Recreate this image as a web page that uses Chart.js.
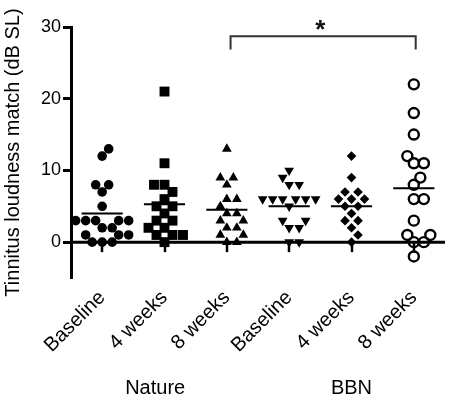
<!DOCTYPE html>
<html>
<head>
<meta charset="utf-8">
<script src="https://cdn.jsdelivr.net/npm/chart.js@4/dist/chart.umd.min.js"></script>
<style>
  html, body { margin: 0; padding: 0; background: #fff; }
  #wrap { width: 459px; height: 399px; position: relative; }
</style>
</head>
<body>
<div id="wrap"><canvas id="c" width="459" height="399"></canvas></div>
<script>
// ---- data ----
const categories = ['Baseline', '4 weeks', '8 weeks', 'Baseline', '4 weeks', '8 weeks'];
const groupLabels = ['Nature', 'BBN'];
const yTicks = [0, 10, 20, 30];

const natureBaseline = [13, 12, 8, 8, 7, 5, 3, 3, 3, 3, 3, 2, 2, 1, 1, 1, 0, 0, 0];
const nature4w      = [21, 11, 8, 8, 7, 6, 5, 5, 4, 3, 3, 2, 2, 1, 1, 1, 0];
const nature8w      = [13, 9, 9, 8, 6, 6, 5, 4, 4, 3, 3, 2, 2, 1, 1, 0, 0];
const bbnBaseline   = [10, 9, 8, 8, 6, 6, 6, 6, 6, 6, 5, 3, 3, 2, 2, 0, 0];
const bbn4w         = [12, 9, 7, 7, 6, 6, 6, 5, 5, 4, 3, 3, 2, 1, 0];
const bbn8w         = [22, 18, 15, 12, 11, 11, 9, 8, 6, 6, 3, 1, 1, 0, 0, -2];
const means         = [4.0, 5.3, 4.5, 5.0, 5.0, 7.5];
const significance  = '*';

const series = [natureBaseline, nature4w, nature8w, bbnBaseline, bbn4w, bbn8w];
const styles = [
  { pointStyle: 'circle',   radius: 4.8, rotation: 0,   fill: '#000', bw: 0 },
  { pointStyle: 'rect',     radius: 7.0, rotation: 0,   fill: '#000', bw: 0 },
  { pointStyle: 'triangle', radius: 5.6, rotation: 0,   fill: '#000', bw: 0 },
  { pointStyle: 'triangle', radius: 5.6, rotation: 180, fill: '#000', bw: 0 },
  { pointStyle: 'rectRot',  radius: 4.8, rotation: 0,   fill: '#000', bw: 0 },
  { pointStyle: 'circle',   radius: 5.0, rotation: 0,   fill: 'rgba(0,0,0,0)', bw: 2.4 }
];

const datasets = series.map((vals, g) => ({
  type: 'scatter',
  data: vals.map(v => ({ x: g + 1, y: v })),
  pointStyle: styles[g].pointStyle,
  pointRadius: styles[g].radius,
  rotation: styles[g].rotation,
  backgroundColor: styles[g].fill,
  borderColor: '#000',
  borderWidth: styles[g].bw,
  order: 1
}));

// mean lines (one segment per group)
const meanData = [];
means.forEach((m, g) => {
  meanData.push({ x: g + 1 - 0.33, y: m }, { x: g + 1 + 0.33, y: m }, { x: g + 1.5, y: null });
});
datasets.push({
  type: 'line',
  data: meanData,
  borderColor: '#000',
  borderWidth: 2,
  pointRadius: 0,
  spanGaps: false,
  fill: false,
  order: 0
});

const FONT = "'Liberation Sans', Arial, sans-serif";

const decorations = {
  id: 'decorations',
  beforeDatasetsDraw(chart) {
    const { ctx, chartArea, scales: { x, y } } = chart;
    const y0 = y.getPixelForValue(0);
    ctx.save();
    ctx.strokeStyle = '#000';
    ctx.lineWidth = 3;
    ctx.beginPath();
    ctx.moveTo(chartArea.left, y0);
    ctx.lineTo(chartArea.right, y0);
    ctx.stroke();
    ctx.lineWidth = 2.5;
    for (let i = 1; i <= categories.length; i++) {
      const px = Math.round(x.getPixelForValue(i));
      ctx.beginPath();
      ctx.moveTo(px, y0);
      ctx.lineTo(px, y0 + 10);
      ctx.stroke();
    }
    ctx.restore();
  },
  afterDraw(chart) {
    const { ctx, scales: { x, y } } = chart;
    ctx.save();
    // significance bracket between Nature 8 weeks and BBN 8 weeks
    const xl = x.getPixelForValue(3.06), xr = x.getPixelForValue(6.03);
    const yt = y.getPixelForValue(28.7), yb = y.getPixelForValue(26.85);
    ctx.strokeStyle = '#333';
    ctx.lineWidth = 2;
    ctx.beginPath();
    ctx.moveTo(xl, yb); ctx.lineTo(xl, yt); ctx.lineTo(xr, yt); ctx.lineTo(xr, yb);
    ctx.stroke();
    ctx.fillStyle = '#111';
    ctx.font = 'bold 26px ' + FONT;
    ctx.textAlign = 'center';
    ctx.textBaseline = 'middle';
    ctx.fillText(significance, x.getPixelForValue(4.5), y.getPixelForValue(28.7) - 5);
    // group labels
    ctx.font = '20px ' + FONT;
    ctx.fillStyle = '#000';
    ctx.fillText(groupLabels[0], x.getPixelForValue(1.85), 388);
    ctx.fillText(groupLabels[1], x.getPixelForValue(5.0), 388);
    ctx.restore();
  }
};

const chart = new Chart(document.getElementById('c'), {
  type: 'scatter',
  data: { datasets },
  plugins: [decorations],
  options: {
    responsive: false,
    animation: false,
    events: [],
    layout: { padding: { top: 27, right: 14, bottom: 0, left: 0 } },
    plugins: { legend: { display: false }, tooltip: { enabled: false } },
    scales: {
      x: {
        type: 'linear',
        min: 0.5, max: 6.5,
        afterFit(s) { s.height = 121; },
        afterBuildTicks(s) { s.ticks = categories.map((c, i) => ({ value: i + 1 })); },
        grid: { display: false, drawTicks: false },
        border: { display: false },
        ticks: {
          autoSkip: false,
          minRotation: 45, maxRotation: 45,
          padding: 8,
          color: '#000',
          font: { family: FONT, size: 20 },
          callback: v => categories[v - 1]
        }
      },
      y: {
        min: -5, max: 30,
        afterFit(s) { s.width = 71; },
        afterBuildTicks(s) { s.ticks = yTicks.map(v => ({ value: v })); },
        grid: { drawOnChartArea: false, drawTicks: true, tickLength: 8, tickWidth: 3, tickColor: '#000', color: '#000' },
        border: { display: true, color: '#000', width: 3 },
        ticks: { padding: 2, color: '#000', font: { family: FONT, size: 18 } },
        title: {
          display: true,
          text: 'Tinnitus loudness match (dB SL)',
          color: '#000',
          font: { family: FONT, size: 20 },
          padding: { top: 1, bottom: 0 }
        }
      }
    }
  }
});

// beeswarm layout of the points within each column (pixel based, collision-free)
(function swarm() {
  const x = chart.scales.x, y = chart.scales.y;
  const pxPerX = x.getPixelForValue(1) - x.getPixelForValue(0);
  series.forEach((vals, g) => {
    const d = styles[g].pointStyle === 'rect' ? 10.5 : 9.6;
    const order = vals.map((v, i) => i).sort((a, b) => vals[a] - vals[b]);
    const placed = [];
    const offs = new Array(vals.length).fill(0);
    order.forEach(i => {
      const py = y.getPixelForValue(vals[i]);
      for (let k = 0; k < 400; k++) {
        const o = (k % 2 ? 1 : -1) * Math.ceil(k / 2) * 0.5;
        if (placed.every(p => Math.hypot(p.x - o, p.y - py) >= d)) {
          placed.push({ x: o, y: py });
          offs[i] = o;
          break;
        }
      }
    });
    chart.data.datasets[g].data = vals.map((v, i) => ({ x: g + 1 + offs[i] / pxPerX, y: v }));
  });
  chart.update('none');
})();
</script>
</body>
</html>
